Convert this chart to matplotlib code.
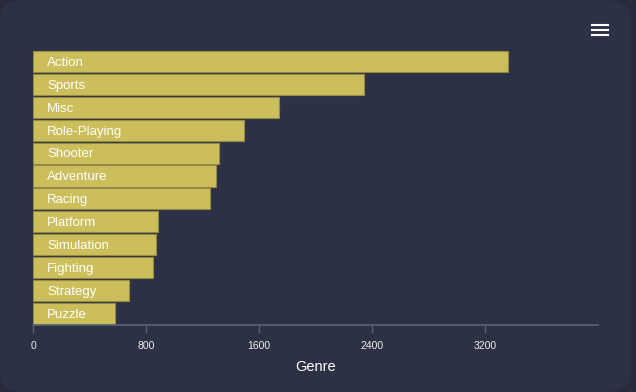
import matplotlib.pyplot as plt
from matplotlib.patches import FancyBboxPatch
from matplotlib.lines import Line2D

plt.rcParams['font.family'] = ['Liberation Sans', 'DejaVu Sans']

genres = ['Action', 'Sports', 'Misc', 'Role-Playing', 'Shooter', 'Adventure',
          'Racing', 'Platform', 'Simulation', 'Fighting', 'Strategy', 'Puzzle']
counts = [3365, 2345, 1740, 1495, 1315, 1295, 1250, 885, 870, 848, 680, 578]
xticks = [0, 800, 1600, 2400, 3200]

card = '#2d3145'
fig = plt.figure(figsize=(6.36, 3.92), dpi=100, facecolor='#272b3c')
bg = FancyBboxPatch((0.0, 0.0), 0.992, 1.0, boxstyle='round,pad=0,rounding_size=0.045',
                    transform=fig.transFigure, facecolor=card, edgecolor='none', zorder=-5)
fig.patches.append(bg)

ax = fig.add_axes([0.052, 0.172, 0.888, 0.70])
ax.set_zorder(2)
ax.set_facecolor('none')
y = list(range(len(genres)))
ax.barh(y, counts, height=0.925, color='#ccbe5a', edgecolor='#958a45', linewidth=0.8)
for yi, g in zip(y, genres):
    # small nudge down so the label sits in the middle of the bar
    ax.text(100, yi + 0.06, g, color='white', va='center', ha='left', fontsize=9.5)
ax.set_ylim(len(genres) - 0.5, -0.5)
ax.set_xlim(0, 4000)
ax.set_yticks([])
ax.set_xticks(xticks)
ax.set_xticklabels([str(t) for t in xticks], fontsize=7.5)
ax.tick_params(axis='x', colors='#566575', length=6, width=1, pad=6, labelcolor='#eeeeee')
for s in ['top', 'right', 'left']:
    ax.spines[s].set_visible(False)
ax.spines['bottom'].set_color('#566575')
ax.spines['bottom'].set_linewidth(1.2)
ax.set_xlabel('Genre', color='white', fontsize=10.5, labelpad=6)

# menu icon
for yy in [0.911, 0.924, 0.937]:
    fig.add_artist(Line2D([0.931, 0.956], [yy, yy], color='white', lw=1.5, transform=fig.transFigure, zorder=3))

fig.savefig('out.png', dpi=100, facecolor=fig.get_facecolor())
